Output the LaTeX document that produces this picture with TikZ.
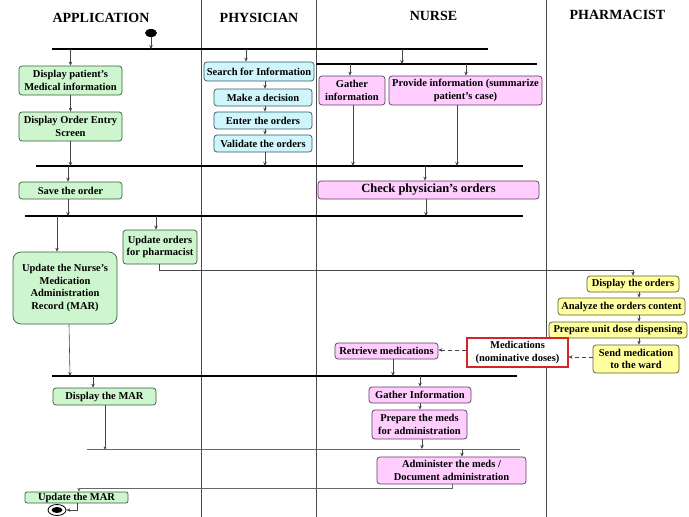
\documentclass[tikz,border=0pt]{standalone}
\usepackage{fontspec}
\setmainfont{Liberation Serif}
\usetikzlibrary{arrows.meta,shapes.geometric}
\definecolor{gfill}{RGB}{206,246,206}
\definecolor{gdraw}{RGB}{60,95,60}
\definecolor{cfill}{RGB}{206,246,252}
\definecolor{cdraw}{RGB}{50,90,100}
\definecolor{pfill}{RGB}{255,206,255}
\definecolor{pdraw}{RGB}{95,60,95}
\definecolor{yfill}{RGB}{255,255,160}
\definecolor{ydraw}{RGB}{95,95,50}
\definecolor{medred}{RGB}{215,35,35}
\definecolor{lk}{RGB}{70,70,70}
\begin{document}
\begin{tikzpicture}[x=1pt,y=-1pt,
  box/.style={draw, rounded corners=3pt, line width=0.7pt, align=center, inner sep=1pt,
    font=\bfseries\fontsize{10.5}{12.5}\selectfont},
  gbox/.style={box, fill=gfill, draw=gdraw},
  cbox/.style={box, fill=cfill, draw=cdraw},
  pbox/.style={box, fill=pfill, draw=pdraw},
  ybox/.style={box, fill=yfill, draw=ydraw},
  hdr/.style={anchor=base, font=\bfseries\fontsize{14}{16}\selectfont},
  bar/.style={line width=2pt},
  thinbar/.style={line width=0.6pt, draw=black!60},
  arr/.style={-{Stealth[length=4pt,width=3.5pt]}, line width=0.6pt, draw=lk},
  darr/.style={arr, dash pattern=on 4pt off 3pt},
  lane/.style={line width=0.6pt, draw=black!70}
]
\useasboundingbox (0,0) rectangle (689,517);

% lanes
\draw[lane] (201,0) -- (201,517);
\draw[lane] (316,0) -- (316,517);
\draw[lane] (546,0) -- (546,517);

% headers
\node[hdr] (happ) at (101,22) {APPLICATION};
\node[hdr] (hphy) at (259,22) {PHYSICIAN};
\node[hdr] (hnur) at (433.5,20) {NURSE};
\node[hdr] (hpha) at (617.5,19) {PHARMACIST};

% start
\node[ellipse, fill=black, minimum width=12pt, minimum height=8pt, inner sep=0pt] (start) at (151,33) {};

% bars
\coordinate (b1l) at (52,49);  \coordinate (b1r) at (488,49);
\coordinate (b2l) at (316,64); \coordinate (b2r) at (537,64);
\coordinate (b3l) at (36,166); \coordinate (b3r) at (523,166);
\coordinate (b4l) at (25,216); \coordinate (b4r) at (523,216);
\coordinate (b5l) at (52,376); \coordinate (b5r) at (517,376);
\coordinate (b6l) at (87,449); \coordinate (b6r) at (520,449);
\draw[bar] (b1l) -- (b1r);
\draw[bar] (b2l) -- (b2r);
\draw[bar] (b3l) -- (b3r);
\draw[bar] (b4l) -- (b4r);
\draw[bar] (b5l) -- (b5r);
\draw[thinbar] (b6l) -- (b6r);

% application boxes
\node[gbox, minimum width=103pt, minimum height=29pt] (dpm) at (70.5,80.5) {Display patient's\\Medical information};
\node[gbox, minimum width=103pt, minimum height=29pt] (doe) at (70.5,126.5) {Display Order Entry\\Screen};
\node[gbox, minimum width=103pt, minimum height=17pt] (sto) at (70.5,190.5) {Save the order};
\node[gbox, rounded corners=8pt, minimum width=104pt, minimum height=72pt] (umar) at (65,288) {Update the Nurse's\\Medication\\Administration\\Record (MAR)};
\node[gbox, minimum width=74pt, minimum height=34pt] (uop) at (160,247) {Update orders\\for pharmacist};
\node[gbox, minimum width=103pt, minimum height=17pt] (dmar) at (104.5,396.5) {Display the MAR};
\node[gbox, rounded corners=2pt, minimum width=103pt, minimum height=11pt, inner sep=0pt] (umar2) at (76.5,497.5) {Update the MAR};

% physician boxes
\node[cbox, minimum width=110pt, minimum height=19pt] (sfi) at (259,71.5) {Search for Information};
\node[cbox, minimum width=98pt, minimum height=17pt] (mad) at (263,97.5) {Make a decision};
\node[cbox, minimum width=98pt, minimum height=17pt] (eto) at (263,120.5) {Enter the orders};
\node[cbox, minimum width=98pt, minimum height=17pt] (vto) at (263,143.5) {Validate the orders};

% nurse boxes
\node[pbox, minimum width=66pt, minimum height=29pt] (gi) at (352,90.5) {Gather\\information};
\node[pbox, minimum width=153pt, minimum height=29pt] (pi) at (465.5,90.5) {Provide information (summarize\\patient's case)};
\node[pbox, minimum width=221pt, minimum height=18pt, font=\bfseries\fontsize{12.5}{14}\selectfont] (cpo) at (428.5,190) {Check physician's orders};
\node[pbox, minimum width=103pt, minimum height=16pt] (rm) at (386.5,351) {Retrieve medications};
\node[pbox, minimum width=102pt, minimum height=16pt] (gI) at (420,395) {Gather Information};
\node[pbox, minimum width=95pt, minimum height=29pt] (pma) at (419.5,424.5) {Prepare the meds\\for administration};
\node[pbox, minimum width=149pt, minimum height=27pt] (adm) at (451.5,470.5) {Administer the meds /\\Document administration};

% pharmacist boxes
\node[ybox, minimum width=92pt, minimum height=16pt] (dto) at (633,284) {Display the orders};
\node[ybox, minimum width=127pt, minimum height=17pt] (aoc) at (621.5,306.5) {Analyze the orders content};
\node[ybox, minimum width=138pt, minimum height=16pt] (pud) at (618,330) {Prepare unit dose dispensing};
\node[ybox, minimum width=86pt, minimum height=28pt] (smw) at (636,359) {Send medication\\to the ward};

% medications object
\node[box, rounded corners=0pt, draw=medred, line width=1.1pt, fill=white, minimum width=101pt, minimum height=29pt] (med) at (517.5,352.5) {Medications\\(nominative doses)};

% end node
\node[ellipse, draw=black, line width=0.8pt, fill=white, minimum width=18pt, minimum height=11pt, inner sep=0pt] (endn) at (57,510) {};
\node[ellipse, fill=black, minimum width=11pt, minimum height=6pt, inner sep=0pt] (endin) at (57,510) {};

% connectors
\draw[arr] (start) -- (start |- b1l);
\draw[arr] (dpm.north |- b1l) -- (dpm.north);
\draw[arr] (246,0 |- b1l) -- (246,0 |- sfi.north);
\draw[arr] (402,0 |- b1l) -- (402,0 |- b2l);
\draw[arr] (350,0 |- b2l) -- (350,0 |- gi.north);
\draw[arr] (466,0 |- b2l) -- (466,0 |- pi.north);

\draw[arr] (dpm.south) -- (doe.north);
\draw[arr] (265,0 |- sfi.south) -- (265,0 |- mad.north);
\draw[arr] (265,0 |- mad.south) -- (265,0 |- eto.north);
\draw[arr] (265,0 |- eto.south) -- (265,0 |- vto.north);

\draw[arr] (doe.south) -- (doe.south |- b3l);
\draw[arr] (265,0 |- vto.south) -- (265,0 |- b3l);
\draw[arr] (353,0 |- gi.south) -- (353,0 |- b3l);
\draw[arr] (457,0 |- pi.south) -- (457,0 |- b3l);

\draw[arr] (68,0 |- b3l) -- (68,0 |- sto.north);
\draw[arr] (425,0 |- b3l) -- (425,0 |- cpo.north);
\draw[arr] (68,0 |- sto.south) -- (68,0 |- b4l);
\draw[arr] (426,0 |- cpo.south) -- (426,0 |- b4l);

\draw[arr] (57,0 |- b4l) -- (57,0 |- umar.north);
\draw[arr] (156,0 |- b4l) -- (156,0 |- uop.north);
\draw[arr] (159,0 |- uop.south) -- ++(0,6) -| (dto.north);

\draw[arr] (639,0 |- dto.south) -- (639,0 |- aoc.north);
\draw[arr] (639,0 |- aoc.south) -- (639,0 |- pud.north);
\draw[arr] (639,0 |- pud.south) -- (639,0 |- smw.north);

\draw[darr] (smw.west |- 0,357) -- (med.east |- 0,357);
\draw[darr] (med.west |- 0,350) -- (rm.east |- 0,350);

\draw[arr] (393,0 |- rm.south) -- (393,0 |- b5l);
\draw[arr] (69,0 |- umar.south) -- (70,0 |- b5l);
\draw[arr] (93,0 |- b5l) -- (93,0 |- dmar.north);
\draw[arr] (420,0 |- b5l) -- (420,0 |- gI.north);
\draw[arr] (420,0 |- gI.south) -- (420,0 |- pma.north);

\draw[line width=0.6pt, draw=lk, -{Circle[length=2.5pt]}] (105,0 |- dmar.south) -- (105,0 |- b6l);
\draw[arr] (422,0 |- pma.south) -- (422,0 |- b6l);
\draw[arr] (462,0 |- b6l) -- (462,0 |- adm.north);

\draw[arr, draw=black!60] (452,0 |- adm.south) -- ++(0,4) -| (79,0 |- umar2.north);
\draw[arr] (77,0 |- umar2.south) |- (endn.east);
\end{tikzpicture}
\end{document}
